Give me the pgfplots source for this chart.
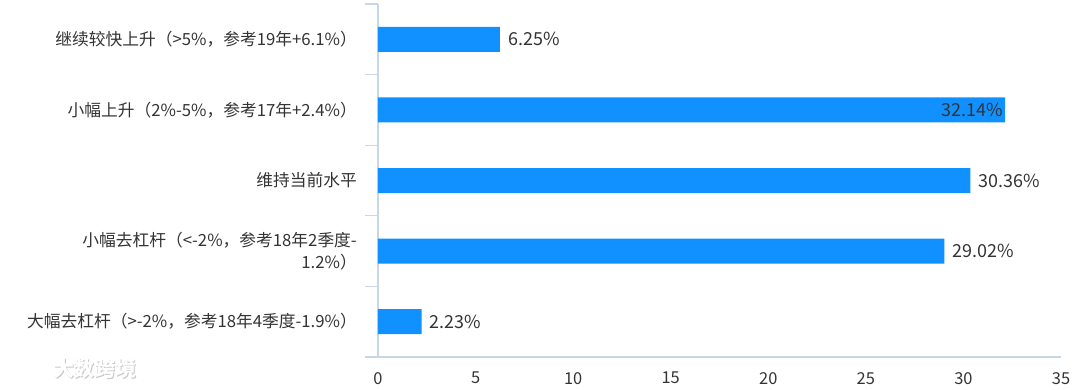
\documentclass[border=0pt]{standalone}
\usepackage{fontspec}
\setmainfont{Noto Sans CJK SC}
\usepackage{pgfplots}
\pgfplotsset{compat=1.18}
\definecolor{barblue}{RGB}{16,145,255}
\definecolor{axisline}{RGB}{200,214,230}
\definecolor{txt}{RGB}{51,51,51}
\begin{document}
\begin{tikzpicture}
\begin{axis}[
  scale only axis, width=683bp, height=353bp,
  xmin=0, xmax=35, ymin=-0.5, ymax=4.5, y dir=reverse,
  axis x line*=bottom, axis y line*=left,
  axis line style={axisline, line width=1.2bp},
  xtick={0,5,...,35},
  ytick={0,1,2,3,4},
  yticklabels={
    {继续较快上升（>5\%，参考19年+6.1\%）},
    {小幅上升（2\%-5\%，参考17年+2.4\%）},
    {维持当前水平},
    {小幅去杠杆（<-2\%，参考18年2季度-\\1.2\%）},
    {大幅去杠杆（>-2\%，参考18年4季度-1.9\%）}},
  major tick length=0pt,
  tick label style={text=txt},
  yticklabel style={font=\fontsize{16.8}{22}\selectfont, align=right, inner sep=0pt, xshift=-21bp},
  xticklabel style={font=\fontsize{16.5}{20}\selectfont, inner sep=0pt, yshift=-15bp},
  /pgf/number format/assume math mode=true,
  clip=false,
]
\addplot[xbar, fill=barblue, draw=none, bar width=25bp, bar shift=0pt]
  coordinates {(6.25,0) (32.14,1) (30.36,2) (29.02,3) (2.23,4)};
\addplot[draw=none, mark=none, point meta=explicit symbolic,
  nodes near coords, nodes near coords align={right},
  every node near coord/.append style={font=\fontsize{18}{22}\selectfont, text=txt, inner sep=0pt, xshift=8bp}]
  coordinates {(6.25,0) [6.25\%] (30.36,2) [30.36\%] (29.02,3) [29.02\%] (2.23,4) [2.23\%]};
\addplot[draw=none, mark=none, point meta=explicit symbolic,
  nodes near coords, nodes near coords align={left},
  every node near coord/.append style={font=\fontsize{18}{22}\selectfont, text=txt, inner sep=0pt, xshift=-2bp}]
  coordinates {(32.14,1) [32.14\%]};
\pgfplotsinvokeforeach{-0.5,0.5,1.5,2.5,3.5,4.5}{
  \draw[axisline, line width=1.2bp] (axis cs:0,#1) -- ([xshift=-13bp]axis cs:0,#1);
}
\coordinate (o) at (axis cs:0,4.5);
\end{axis}
\node[anchor=west, text=black!22, font=\fontsize{21}{24}\selectfont\bfseries] at ([shift={(-327.5bp,-13bp)}]o) {大数跨境};
\node[anchor=west, text=white, font=\fontsize{21}{24}\selectfont\bfseries] at ([shift={(-328.5bp,-12bp)}]o) {大数跨境};
\pgfresetboundingbox
\path (o) ++(-378bp,-33bp) rectangle ++(1080bp,390bp);
\end{tikzpicture}
\end{document}
